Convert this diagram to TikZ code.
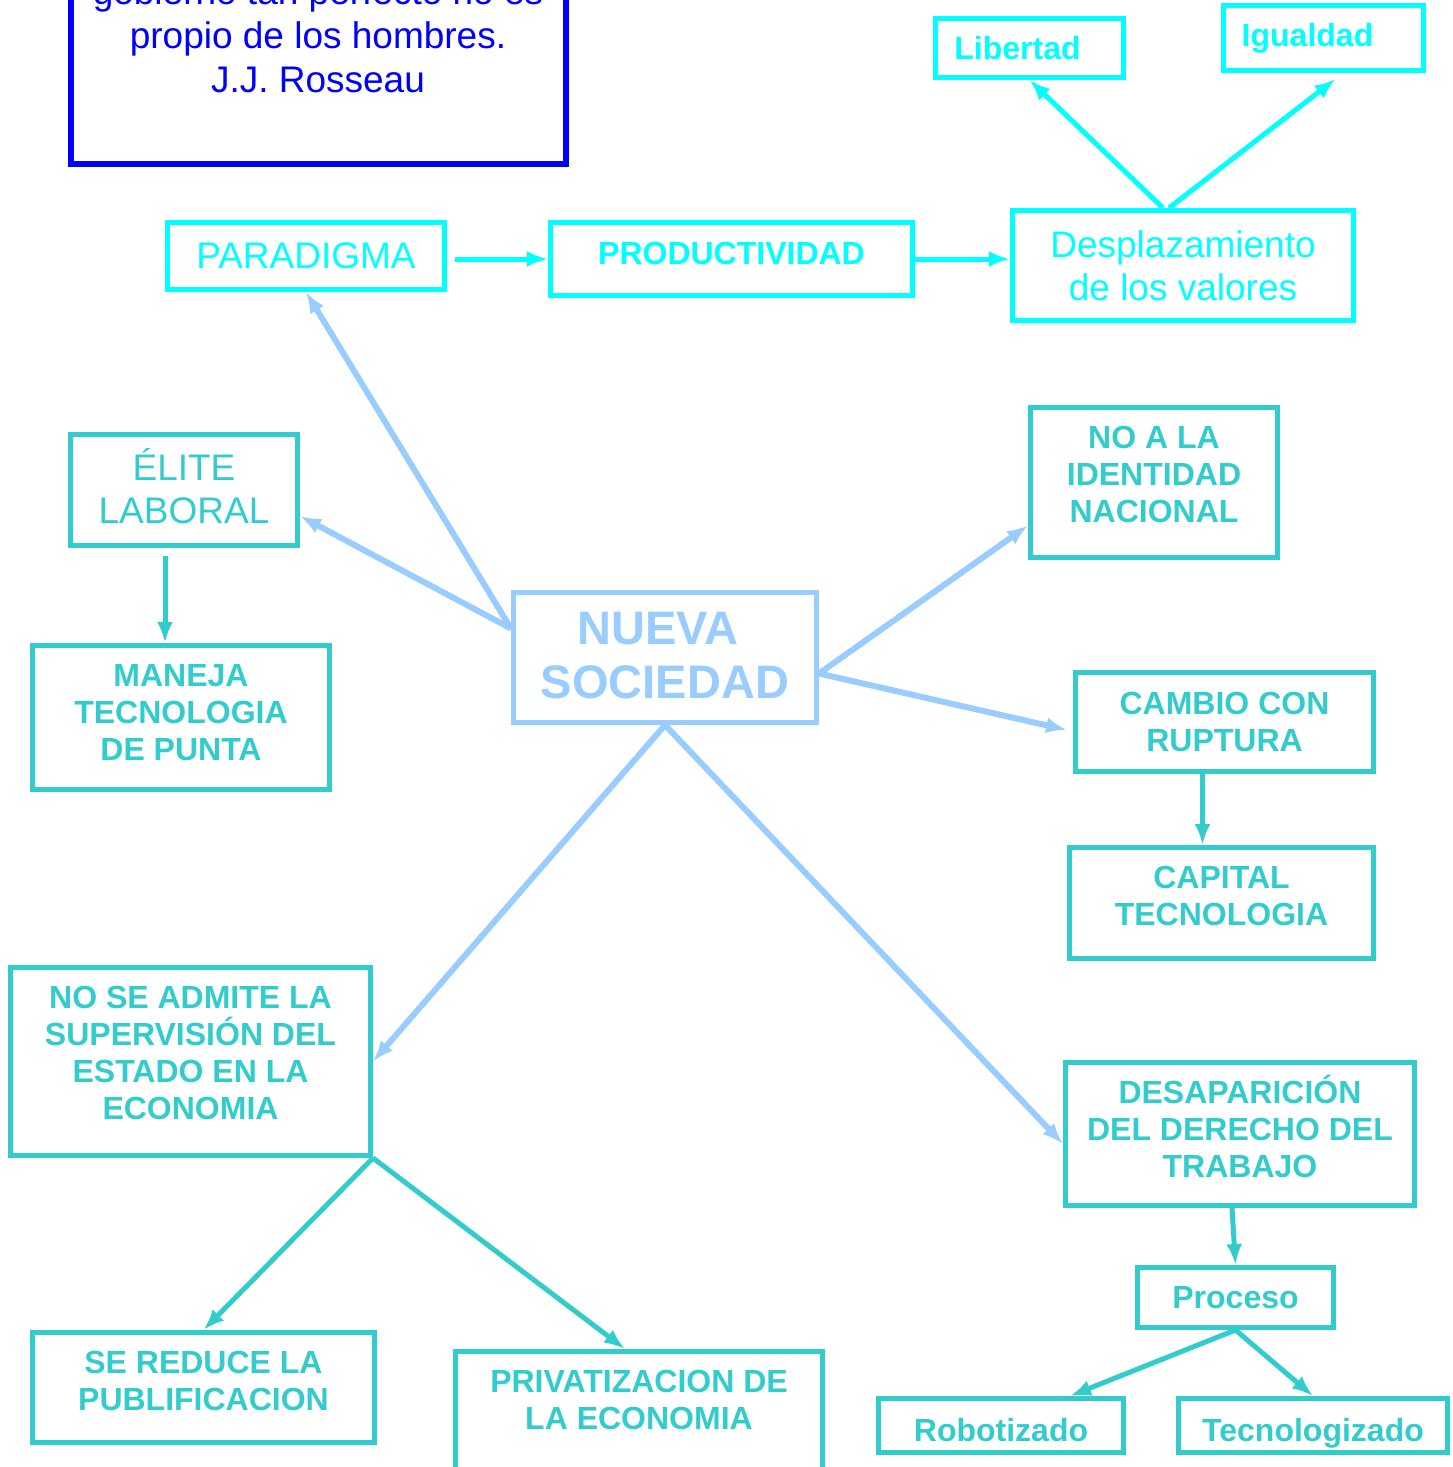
\documentclass[tikz,border=0pt]{standalone}
\usepackage{fontspec}
\setmainfont{Liberation Sans}
\usetikzlibrary{arrows.meta}
\definecolor{aqua}{RGB}{0,255,255}
\definecolor{mapteal}{RGB}{51,204,204}
\definecolor{skyblue}{RGB}{153,204,255}
\definecolor{quoteblue}{RGB}{0,0,255}
% invisible rules that nudge a label inside its box
\newcommand\lift[1]{\rule[-#1]{0pt}{0pt}}
\newcommand\drop[1]{\rule{0pt}{#1}}
\newcommand\pad[1]{\rule{#1}{0pt}}

\begin{document}
\begin{tikzpicture}[x=1pt, y=-1pt,
  box/.style={draw, line width=5pt, inner sep=0pt, align=center},
  plain/.style={font=\fontsize{37}{43}\selectfont},
  heavy/.style={font=\fontsize{32}{37}\selectfont\bfseries},
  link/.style={line width=5pt, -{Latex[length=21pt,width=16pt]}}]
  \useasboundingbox (0,0) rectangle (1452,1467);
  \clip (0,0) rectangle (1452,1467);
  % quote, cut off at the top
  \node[draw=quoteblue, line width=6pt, inner sep=0pt, minimum width=495pt, minimum height=290pt] (quote) at (318.5,19) {};
  \node[quoteblue, font=\fontsize{37}{44}\selectfont, align=center, inner sep=0pt, anchor=north] (quotetext) at (318,-23) {gobierno tan perfecto no es\\propio de los hombres.\\J.J. Rosseau};
  % top row
  \node[box, plain, aqua, minimum width=277pt, minimum height=67pt] (paradigma) at (306,256) {PARADIGMA};
  \node[box, heavy, aqua, minimum width=362pt, minimum height=73pt] (productividad) at (731.5,259) {PRODUCTIVIDAD\lift{12pt}};
  \node[box, plain, aqua, minimum width=341pt, minimum height=110pt] (desplaz) at (1183,265.5) {Desplazamiento\\de los valores};
  \node[box, heavy, aqua, minimum width=188pt, minimum height=59pt] (libertad) at (1029.5,48) {Libertad\pad{24pt}};
  \node[box, heavy, aqua, minimum width=200pt, minimum height=65pt] (igualdad) at (1323.5,38) {Igualdad\pad{32pt}};
  % centre
  \node[box, skyblue, font=\fontsize{47}{54}\selectfont\bfseries, minimum width=303pt, minimum height=130pt] (nueva) at (665,657.5) {NUEVA\pad{14pt}\\SOCIEDAD\lift{4pt}};
  % left side
  \node[box, plain, mapteal, minimum width=227pt, minimum height=111pt] (elite) at (184,490) {ÉLITE\\LABORAL\lift{8pt}};
  \node[box, heavy, mapteal, minimum width=297pt, minimum height=144pt] (maneja) at (181,717.5) {MANEJA\\TECNOLOGIA\\DE PUNTA\lift{10pt}};
  \node[box, heavy, mapteal, minimum width=360pt, minimum height=188pt] (noadmite) at (190.5,1061.5) {NO SE ADMITE LA\\SUPERVISIÓN DEL\\ESTADO EN LA\\ECONOMIA\lift{18pt}};
  \node[box, heavy, mapteal, minimum width=342pt, minimum height=110pt] (reduce) at (203.5,1387.5) {SE REDUCE LA\\PUBLIFICACION\lift{14pt}};
  \node[box, heavy, mapteal, minimum width=367pt, minimum height=136pt] (privat) at (639,1419.5) {\drop{31pt}PRIVATIZACION DE\\LA ECONOMIA\\ \strut};
  % right side
  \node[box, heavy, mapteal, minimum width=247pt, minimum height=150pt] (noidentidad) at (1154,482.5) {NO A LA\\IDENTIDAD\\NACIONAL\lift{16pt}};
  \node[box, heavy, mapteal, minimum width=298pt, minimum height=99pt] (cambio) at (1224.5,722) {CAMBIO CON\\RUPTURA};
  \node[box, heavy, mapteal, minimum width=304pt, minimum height=111pt] (capital) at (1221.5,903) {CAPITAL\\TECNOLOGIA\lift{14pt}};
  \node[box, heavy, mapteal, minimum width=349pt, minimum height=143pt] (desaparicion) at (1240,1134) {DESAPARICIÓN\\DEL DERECHO DEL\\TRABAJO\lift{16pt}};
  \node[box, heavy, mapteal, minimum width=196pt, minimum height=60pt] (proceso) at (1235.5,1297.5) {Proceso};
  \node[box, heavy, mapteal, minimum width=245pt, minimum height=54pt] (robot) at (1001,1425.5) {\drop{33pt}Robotizado};
  \node[box, heavy, mapteal, minimum width=269pt, minimum height=54pt] (tecno) at (1313,1425.5) {\drop{39pt}Tecnologizado};
  \begin{scope}[link]
    \draw[aqua] ([xshift=8pt]paradigma.east |- productividad.west) to (productividad.west);
    \draw[aqua] (productividad.east) to (productividad.east -| desplaz.west);
    \draw[aqua] ([xshift=-20pt]desplaz.north) to (libertad.south);
    \draw[aqua] ([xshift=-14pt]desplaz.north) to ([xshift=12pt,yshift=-6pt]igualdad.south);
    \draw[skyblue, line width=6pt] ([yshift=29pt]nueva.west) to (paradigma.south);
    \draw[skyblue, line width=6pt] ([yshift=29pt]nueva.west) to ([yshift=-26pt]elite.east);
    \draw[skyblue, line width=6pt] ([yshift=-16pt]nueva.east) to ([yshift=-43pt]noidentidad.west);
    \draw[skyblue, line width=6pt] ([yshift=-16pt]nueva.east) to ([xshift=-6pt,yshift=-8pt]cambio.west);
    \draw[skyblue, line width=6pt] (nueva.south) to (noadmite.east);
    \draw[skyblue, line width=6pt] (nueva.south) to ([yshift=-10pt]desaparicion.west);
    \draw[mapteal, shorten <=8pt] ([xshift=-19pt]elite.south) to ([xshift=-19pt]elite.south |- maneja.north);
    \draw[mapteal] ([xshift=-22pt]cambio.south) to ([xshift=-22pt]cambio.south |- capital.north);
    \draw[mapteal] (noadmite.south east) to (reduce.north);
    \draw[mapteal] (noadmite.south east) to ([xshift=-14pt]privat.north);
    \draw[mapteal] ([xshift=-8pt]desaparicion.south) to (proceso.north);
    \draw[mapteal] (proceso.south) to ([xshift=69pt]robot.north);
    \draw[mapteal] (proceso.south) to (tecno.north);
  \end{scope}
\end{tikzpicture}
\end{document}
